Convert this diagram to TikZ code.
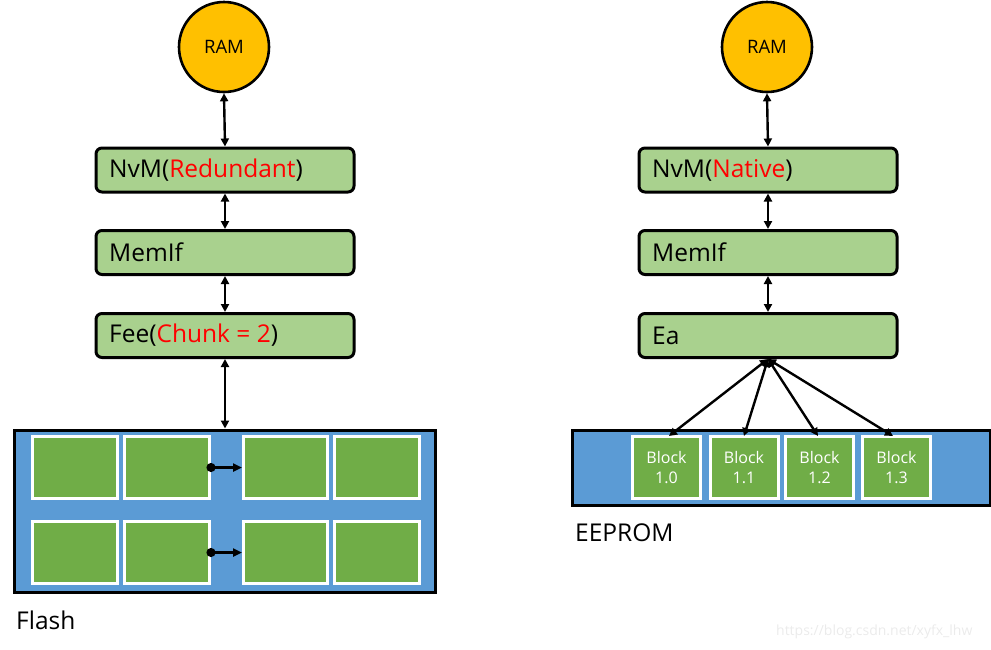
\documentclass[tikz,border=0pt]{standalone}
\usepackage{fontspec}
\setmainfont{Open Sans}
\usetikzlibrary{arrows.meta}
\definecolor{layer}{HTML}{A9D18E}
\definecolor{ramc}{HTML}{FFC000}
\definecolor{memblue}{HTML}{5B9BD5}
\definecolor{cellg}{HTML}{70AD47}
\definecolor{redtxt}{HTML}{FF0000}
\tikzset{
  layerbox/.style={draw=black, line width=3pt, fill=layer, rounded corners=6pt, minimum width=258pt, minimum height=44pt, inner sep=0pt},
  ramnode/.style={circle, draw=black, line width=2.6pt, fill=ramc, minimum size=90pt, inner sep=0pt, font=\fontsize{18.5}{20}\selectfont},
  memrect/.style={draw=black, line width=3pt, fill=memblue, inner sep=0pt},
  cell/.style={draw=white, line width=3pt, fill=cellg, inner sep=0pt},
  blk/.style={cell, minimum width=68pt, minimum height=62pt, text=white, align=center, font=\fontsize{16}{20}\selectfont},
  lbl/.style={anchor=west, inner sep=0pt, font=\fontsize{24.5}{26}\selectfont},
  conn/.style={line width=2.4pt, {Triangle[length=8pt,width=8pt]}-{Triangle[length=8pt,width=8pt]}},
  oneway/.style={line width=2.4pt, {Circle[length=9pt]}-{Triangle[length=9pt,width=8pt]}},
}
\begin{document}
\begin{tikzpicture}[x=1pt,y=-1pt]
\useasboundingbox (0,0) rectangle (991,649);
% ---------- left stack ----------
\node[ramnode] (ramL) at (224,47) {RAM};
\node[layerbox] (nvmL) at (225,170) {};
\node[lbl] at (109,170) {NvM(\textcolor{redtxt}{Redundant})};
\node[layerbox] (memifL) at (225,252.5) {};
\node[lbl] at (109,252.5) {MemIf};
\node[layerbox] (fee) at (225,335.5) {};
\node[lbl] at (109,335.5) {Fee(\textcolor{redtxt}{Chunk = 2})};
\node[memrect, minimum width=421pt, minimum height=162pt] (flash) at (224.5,511) {};
\node[cell, minimum width=85pt, minimum height=62pt] (c11) at (74.5,467.5) {};
\node[cell, minimum width=85pt, minimum height=62pt] (c12) at (166.5,467.5) {};
\node[cell, minimum width=84pt, minimum height=62pt] (c13) at (285.5,467.5) {};
\node[cell, minimum width=85pt, minimum height=62pt] (c14) at (377,467.5) {};
\node[cell, minimum width=85pt, minimum height=62pt] (c21) at (74.5,552.5) {};
\node[cell, minimum width=85pt, minimum height=62pt] (c22) at (166.5,552.5) {};
\node[cell, minimum width=84pt, minimum height=62pt] (c23) at (285.5,552.5) {};
\node[cell, minimum width=85pt, minimum height=62pt] (c24) at (377,552.5) {};
\draw[oneway] ([xshift=-4pt]c12.east) -- (c13.west);
\draw[oneway] ([xshift=-4pt]c22.east) -- (c23.west);
\node[lbl] (flashlbl) at (16,620) {Flash};
\draw[conn] (ramL.south) -- (nvmL.north);
\draw[conn] (nvmL.south) -- (memifL.north);
\draw[conn] (memifL.south) -- (fee.north);
\draw[conn] (fee.south) -- (fee.south |- flash.north);
% ---------- right stack ----------
\node[ramnode] (ramR) at (767,47) {RAM};
\node[layerbox] (nvmR) at (768,170) {};
\node[lbl] at (652,170) {NvM(\textcolor{redtxt}{Native})};
\node[layerbox] (memifR) at (768,252.5) {};
\node[lbl] at (652,252.5) {MemIf};
\node[layerbox] (ea) at (768,335.5) {};
\node[lbl] at (652,335.5) {Ea};
\node[memrect, minimum width=418pt, minimum height=75pt] (eeprom) at (781,467.5) {};
\node[blk] (b0) at (666.5,467.5) {Block\\1.0};
\node[blk] (b1) at (744,467.5) {Block\\1.1};
\node[blk] (b2) at (819.5,467.5) {Block\\1.2};
\node[blk] (b3) at (896.5,467.5) {Block\\1.3};
\node[lbl] (eepromlbl) at (575,533) {EEPROM};
\coordinate (eahub) at (768,359);
\draw[conn] (ramR.south) -- (nvmR.north);
\draw[conn] (nvmR.south) -- (memifR.north);
\draw[conn] (memifR.south) -- (ea.north);
\draw[conn] (eahub) -- (669,436);
\draw[conn] (eahub) -- (744,436);
\draw[conn] (eahub) -- (818,436);
\draw[conn] (eahub) -- (893,436);
% watermark
\node[anchor=west, inner sep=0pt, text=black!8, font=\fontsize{14}{16}\selectfont] (wm) at (776,632) {https://blog.csdn.net/xyfx\_lhw};
\end{tikzpicture}
\end{document}
